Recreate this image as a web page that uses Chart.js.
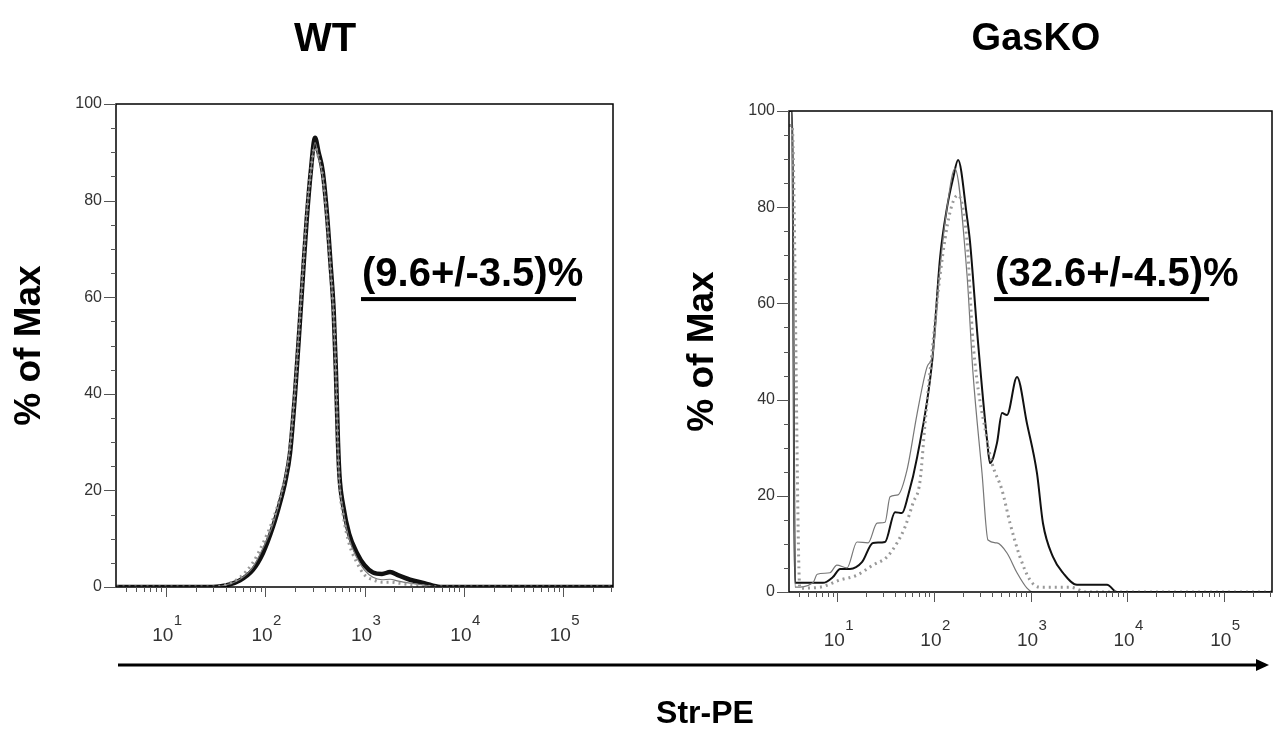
<!DOCTYPE html>
<html>
<head>
<meta charset="utf-8">
<script src="https://cdn.jsdelivr.net/npm/chart.js@4.4.1/dist/chart.umd.min.js"></script>
<style>
    html, body { margin: 0; padding: 0; background: #fff; }
    #page { position: relative; width: 1280px; height: 731px; overflow: hidden;
            font-family: Arial, "Liberation Sans", sans-serif; }
    .panel { position: absolute; top: 0; }
    .title { position: absolute; font-weight: bold; line-height: 1; white-space: nowrap;
             transform: translateX(-50%); color: #000; }
    #arrow { position: absolute; left: 0; top: 0; }
</style>
</head>
<body>
<div id="page">
    <canvas class="panel" id="wtChart" width="650" height="731" style="left:0px"></canvas>
    <canvas class="panel" id="koChart" width="630" height="731" style="left:650px"></canvas>
    <div class="title" style="left:325px; top:17px; font-size:40px;">WT</div>
    <div class="title" style="left:1036px; top:18px; font-size:38px;">GasKO</div>
    <svg id="arrow" width="1280" height="731">
        <line x1="118" y1="665" x2="1258" y2="665" stroke="#000" stroke-width="3"/>
        <polygon points="1256,659 1269,665 1256,671" fill="#000"/>
    </svg>
    <div class="title" style="left:705px; top:696px; font-size:32px;">Str-PE</div>
</div>
<script>
    "use strict";

    // axis ranges / ticks
    var xMin = Math.pow(10, 0.5);
    var xMax = Math.pow(10, 5.5);
    var xDecades = [1, 10, 100, 1000, 10000, 100000];
    var xLabelExp = [1, 2, 3, 4, 5];
    var yMinorStep = 5;
    var yMajorStep = 20;

    // WT histograms (Str-PE value, % of max)
    var wtX = [3.2, 30, 40, 56, 75, 95, 120, 141, 160, 178, 200, 224, 241, 262, 288, 318, 345, 380, 420, 455, 490, 515, 541, 560, 608, 700, 841, 1000, 1217, 1500, 1806, 2200, 2873, 4000, 5760, 316000];
    var wtBlack = [0, 0, 0.3, 1.4, 3.5, 7, 12.5, 17.4, 22, 27.7, 40, 55, 65, 76, 86, 93, 90, 86, 77, 67, 57, 45, 30, 23, 17, 11, 7, 4.5, 3, 2.7, 3.1, 2.4, 1.5, 0.8, 0, 0];
    var wtGray = [0, 0, 0.4, 1.6, 4, 8, 13, 18, 23, 29, 41, 56, 66, 77, 86, 92, 89, 85, 76, 66, 56, 44, 29, 22, 16, 10, 6, 3.5, 2, 1.5, 1.6, 1.2, 0.8, 0.4, 0, 0];
    var wtDot = [0, 0, 0.5, 2, 5, 9, 14, 18.5, 23, 29, 41, 56, 66, 77, 86, 91, 89, 85, 76, 66, 56, 44, 28, 21, 15, 9, 5, 2.5, 1.5, 1, 1, 0.8, 0.5, 0.2, 0, 0];

    // GasKO histograms
    var koBlackX = [3.16, 3.4, 3.65, 5.2, 7.1, 9.0, 10.7, 13.5, 18, 23.4, 31.2, 39.6, 46.7, 54, 67, 96, 116, 137, 158, 178, 220, 236, 286, 355, 381, 450, 507, 571, 725, 920, 1167, 1346, 1709, 2169, 3029, 6196, 7860, 316000];
    var koBlackY = [100, 100, 1.9, 1.9, 1.9, 3.1, 4.8, 4.8, 6.2, 10.2, 10.4, 16.6, 16.4, 20, 28, 48, 69.6, 80, 86, 89.8, 78, 73, 52, 31.6, 26.8, 31, 37.2, 36.8, 44.7, 35, 24.7, 14.3, 7.3, 4, 1.5, 1.5, 0, 0];
    var koGrayX = [3.16, 3.4, 3.65, 5.6, 6.2, 8.4, 9.9, 12.6, 16, 20.8, 25.8, 31.2, 35.2, 42.5, 52.7, 66.9, 85, 98, 116, 137, 165, 220, 254, 315, 363, 450, 571, 725, 920, 1061, 316000];
    var koGrayY = [100, 100, 1, 1.9, 3.7, 4, 5.6, 5, 10.4, 10.2, 14.3, 14.5, 19.8, 20.2, 25.4, 37, 46.8, 49.7, 67.6, 80, 88, 66, 45.5, 24.7, 10.8, 10.2, 8.1, 4, 0.8, 0, 0];
    var koDotX = [3.16, 3.4, 4.1, 6.6, 10.7, 16, 23.4, 32.7, 41.5, 50.2, 60.8, 71.8, 80.9, 98, 116, 147, 178, 220, 254, 355, 399, 507, 614, 778, 988, 1254, 2564, 3845, 316000];
    var koDotY = [97, 97, 0.8, 1, 2.5, 3.5, 5.6, 7.3, 10.2, 13.5, 18.5, 23, 35, 52, 66, 79, 82.5, 73, 52, 31.6, 26.8, 21.2, 14.3, 7.3, 2.5, 1, 1, 0, 0];

    function pts(xs, ys) {
        return xs.map(function (v, i) { return {x: v, y: ys[i]}; });
    }

    // box, tick marks, 10^n labels and the % note
    var flowAxes = {
        id: 'flowAxes',
        afterDraw: function (chart, args, opts) {
            var ctx = chart.ctx, a = chart.chartArea;
            var x = chart.scales.x, y = chart.scales.y;
            ctx.save();
            ctx.strokeStyle = '#000';
            ctx.lineWidth = 1.5;
            ctx.strokeRect(a.left, a.top, a.right - a.left, a.bottom - a.top);

            ctx.strokeStyle = '#555';
            ctx.lineWidth = 1;
            ctx.beginPath();
            for (var v = 0; v <= 100; v += yMinorStep) {
                var py = Math.round(y.getPixelForValue(v)) + 0.5;
                var len = (v % yMajorStep === 0) ? 12 : 5;
                ctx.moveTo(a.left - len, py);
                ctx.lineTo(a.left, py);
            }
            xDecades.forEach(function (d) {
                for (var m = 1; m <= 9; m++) {
                    var val = m * d;
                    if (val < xMin || val > xMax) continue;
                    var px = Math.round(x.getPixelForValue(val)) + 0.5;
                    ctx.moveTo(px, a.bottom);
                    ctx.lineTo(px, a.bottom + (m === 1 ? 10 : 5));
                }
            });
            ctx.stroke();

            ctx.fillStyle = '#333';
            xLabelExp.forEach(function (e) {
                var px = x.getPixelForValue(Math.pow(10, e));
                ctx.font = '19px Arial, "Liberation Sans", sans-serif';
                ctx.textAlign = 'center';
                ctx.textBaseline = 'alphabetic';
                ctx.fillText('10', px - 3, a.bottom + 54);
                ctx.font = '15px Arial, "Liberation Sans", sans-serif';
                ctx.textAlign = 'left';
                ctx.fillText(String(e), px + 8, a.bottom + 38);
            });

            var note = opts.note;
            if (note) {
                var nx = x.getPixelForValue(note.x);
                var ny = y.getPixelForValue(note.y);
                ctx.fillStyle = '#000';
                ctx.font = 'bold 40px Arial, "Liberation Sans", sans-serif';
                ctx.textAlign = 'left';
                ctx.fillText(note.text, nx, ny);
                ctx.fillRect(nx - 1, ny + 11, 215, 4);
            }
            ctx.restore();
        }
    };

    function makeChart(id, sets, pad, note, thick) {
        var ctx = document.getElementById(id).getContext('2d');
        return new Chart(ctx, {
            type: 'line',
            data: {
                datasets: [{
                    data: pts(sets[0][0], sets[0][1]),
                    borderColor: '#111',
                    borderWidth: thick,
                    order: 3
                }, {
                    data: pts(sets[1][0], sets[1][1]),
                    borderColor: '#777',
                    borderWidth: 1.2,
                    order: 2
                }, {
                    data: pts(sets[2][0], sets[2][1]),
                    borderColor: '#999',
                    borderWidth: 3,
                    borderDash: [2, 4],
                    order: 1
                }]
            },
            options: {
                responsive: false,
                animation: false,
                events: [],
                layout: {padding: pad},
                elements: {
                    point: {radius: 0},
                    line: {cubicInterpolationMode: 'monotone', fill: false}
                },
                plugins: {
                    legend: {display: false},
                    tooltip: {enabled: false},
                    flowAxes: {note: note}
                },
                scales: {
                    x: {
                        type: 'logarithmic',
                        min: xMin,
                        max: xMax,
                        ticks: {display: false},
                        grid: {display: false, drawTicks: false},
                        border: {display: false},
                        afterFit: function (s) { s.height = 60; }
                    },
                    y: {
                        min: 0,
                        max: 100,
                        ticks: {
                            stepSize: yMajorStep,
                            padding: 14,
                            color: '#333',
                            font: {family: 'Arial, "Liberation Sans", sans-serif', size: 16}
                        },
                        grid: {display: false, drawTicks: false},
                        border: {display: false},
                        title: {
                            display: true,
                            text: '% of Max',
                            color: '#000',
                            padding: {top: 8, bottom: 0},
                            font: {family: 'Arial, "Liberation Sans", sans-serif', size: 37, weight: 'bold'}
                        },
                        afterFit: function (s) { s.width = 116; }
                    }
                }
            },
            plugins: [flowAxes]
        });
    }

    // WT
    var wtChart = makeChart('wtChart',
        [[wtX, wtBlack], [wtX, wtGray], [wtX, wtDot]],
        {left: 0, top: 104, right: 37, bottom: 84},
        {x: 944, y: 62.3, text: '(9.6+/-3.5)%'}, 4.5);

    // GasKO
    var koChart = makeChart('koChart',
        [[koBlackX, koBlackY], [koGrayX, koGrayY], [koDotX, koDotY]],
        {left: 23, top: 111, right: 8, bottom: 79},
        {x: 430, y: 63.6, text: '(32.6+/-4.5)%'}, 2);
</script>
</body>
</html>
